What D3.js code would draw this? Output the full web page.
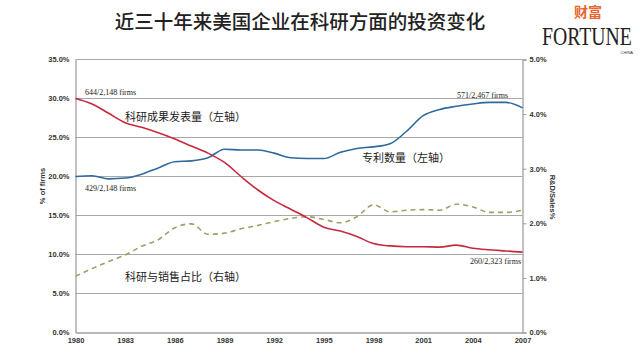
<!DOCTYPE html>
<html>
<head>
<meta charset="utf-8">
<script src="https://cdn.jsdelivr.net/npm/d3@7"></script>
<style>
  body { margin: 0; background: #fff; }
  svg { display: block; }
</style>
</head>
<body>
<svg width="640" height="354"></svg>
<script>
// Data
var years = d3.range(1980, 2008);
var papers = [30.0, 29.3, 28.1, 26.9, 26.3, 25.6, 24.8, 23.9, 23.0, 21.8,
              20.0, 18.3, 16.9, 15.8, 14.7, 13.5, 13.0, 12.3, 11.4, 11.1,
              11.0, 11.0, 10.95, 11.2, 10.8, 10.6, 10.45, 10.3];
var patents = [20.0, 20.1, 19.7, 19.8, 20.3, 21.1, 21.9, 22.0, 22.4, 23.5,
               23.4, 23.4, 23.0, 22.4, 22.3, 22.3, 23.1, 23.6, 23.8, 24.2,
               25.8, 27.8, 28.6, 29.0, 29.3, 29.5, 29.5, 28.8];
var rdSales = [1.03, 1.17, 1.30, 1.42, 1.58, 1.70, 1.92, 1.99, 1.80, 1.82,
               1.90, 1.96, 2.03, 2.09, 2.12, 2.07, 2.01, 2.12, 2.34, 2.21,
               2.24, 2.25, 2.24, 2.35, 2.30, 2.20, 2.20, 2.24];
var xTicks = [1980, 1983, 1986, 1989, 1992, 1995, 1998, 2001, 2004, 2007];
var leftTicks = [0, 5, 10, 15, 20, 25, 30, 35];
var rightTicks = [0, 1, 2, 3, 4, 5];

var svg = d3.select('svg');
var plotL = 75.5, plotR = 522.5, plotT = 59.5, plotB = 332.5;

var x = d3.scaleLinear().domain([1980, 2007]).range([plotL, plotR]);
var yL = d3.scaleLinear().domain([0, 35]).range([plotB, plotT]);
var yR = d3.scaleLinear().domain([0, 5]).range([plotB, plotT]);

var axisFont = '"Liberation Sans", Arial, sans-serif';

// title
svg.append('text')
    .attr('x', 300).attr('y', 29)
    .attr('text-anchor', 'middle')
    .style('font-family', '"Noto Sans CJK SC", sans-serif')
    .style('font-size', '19.5px')
    .style('font-weight', 500)
    .style('fill', '#222')
    .text('近三十年来美国企业在科研方面的投资变化');

// logo
svg.append('text')
    .attr('x', 588).attr('y', 17)
    .attr('text-anchor', 'middle')
    .style('font-family', '"Noto Sans CJK SC", sans-serif')
    .style('font-size', '14px')
    .style('font-weight', 'bold')
    .style('fill', '#e8662e')
    .text('财富');
svg.append('text')
    .attr('transform', 'translate(542,45) scale(0.76,1)')
    .style('font-family', '"Liberation Serif", serif')
    .style('font-size', '26px')
    .style('fill', '#222')
    .text('FORTUNE');
svg.append('text')
    .attr('x', 633).attr('y', 54)
    .attr('text-anchor', 'end')
    .style('font-family', axisFont)
    .style('font-size', '4px')
    .style('fill', '#333')
    .text('CHINA');

// gridlines
svg.append('g').selectAll('line')
    .data(leftTicks.slice(1))
    .enter().append('line')
    .attr('x1', plotL).attr('x2', plotR)
    .attr('y1', d => yL(d)).attr('y2', d => yL(d))
    .style('stroke', '#a8a8a8')
    .style('stroke-width', 1);

// left axis
var gL = svg.append('g')
    .attr('transform', 'translate(' + plotL + ',0)')
    .call(d3.axisLeft(yL).tickValues(leftTicks).tickSize(0).tickPadding(6)
          .tickFormat(d => d.toFixed(1) + '%'));
// right axis
var gR = svg.append('g')
    .attr('transform', 'translate(' + plotR + ',0)')
    .call(d3.axisRight(yR).tickValues(rightTicks).tickSize(4).tickPadding(3)
          .tickFormat(d => d.toFixed(1) + '%'));
// bottom axis
var gB = svg.append('g')
    .attr('transform', 'translate(0,' + plotB + ')')
    .call(d3.axisBottom(x).tickValues(xTicks).tickSize(0).tickPadding(5)
          .tickFormat(d3.format('d')));

[gL, gR, gB].forEach(function(g) {
  g.select('.domain').style('stroke', '#a0a0a0').style('stroke-width', 1.3);
  g.selectAll('.tick line').style('stroke', '#a0a0a0');
  g.selectAll('text')
      .style('font-family', axisFont)
      .style('font-size', '7.5px')
      .style('font-weight', 'bold')
      .style('fill', '#333');
});

// axis titles
svg.append('text')
    .attr('transform', 'translate(45,186) rotate(-90)')
    .attr('text-anchor', 'middle')
    .style('font-family', axisFont)
    .style('font-size', '7.5px')
    .style('font-weight', 'bold')
    .style('fill', '#333')
    .text('% of firms');
svg.append('text')
    .attr('transform', 'translate(550,197) rotate(90)')
    .attr('text-anchor', 'middle')
    .style('font-family', axisFont)
    .style('font-size', '7.5px')
    .style('font-weight', 'bold')
    .style('fill', '#333')
    .text('R&D/Sales%');

// lines
var lineL = d3.line()
    .x((d, i) => x(years[i]))
    .y(d => yL(d))
    .curve(d3.curveMonotoneX);
var lineR = d3.line()
    .x((d, i) => x(years[i]))
    .y(d => yR(d))
    .curve(d3.curveMonotoneX);

svg.append('path')
    .attr('d', lineR(rdSales))
    .style('fill', 'none')
    .style('stroke', '#a09e68')
    .style('stroke-width', 1.6)
    .style('stroke-dasharray', '5,4');
svg.append('path')
    .attr('d', lineL(patents))
    .style('fill', 'none')
    .style('stroke', '#2f6a9c')
    .style('stroke-width', 1.6);
svg.append('path')
    .attr('d', lineL(papers))
    .style('fill', 'none')
    .style('stroke', '#c8283c')
    .style('stroke-width', 1.6);

// firm count notes
var notes = [
  {t: '644/2,148 firms', x: 85, y: 95},
  {t: '429/2,148 firms', x: 85, y: 191},
  {t: '571/2,467 firms', x: 457, y: 98},
  {t: '260/2,323 firms', x: 470, y: 264}
];
svg.append('g').selectAll('text')
    .data(notes)
    .enter().append('text')
    .attr('x', d => d.x).attr('y', d => d.y)
    .style('font-family', '"Liberation Serif", serif')
    .style('font-size', '8px')
    .style('fill', '#222')
    .text(d => d.t);

// series labels
var labels = [
  {t: '科研成果发表量（左轴）', x: 125, y: 121},
  {t: '专利数量（左轴）', x: 362, y: 162},
  {t: '科研与销售占比（右轴）', x: 125, y: 281}
];
svg.append('g').selectAll('text')
    .data(labels)
    .enter().append('text')
    .attr('x', d => d.x).attr('y', d => d.y)
    .style('font-family', '"Noto Sans CJK SC", sans-serif')
    .style('font-size', '11px')
    .style('fill', '#222')
    .text(d => d.t);
</script>
</body>
</html>
